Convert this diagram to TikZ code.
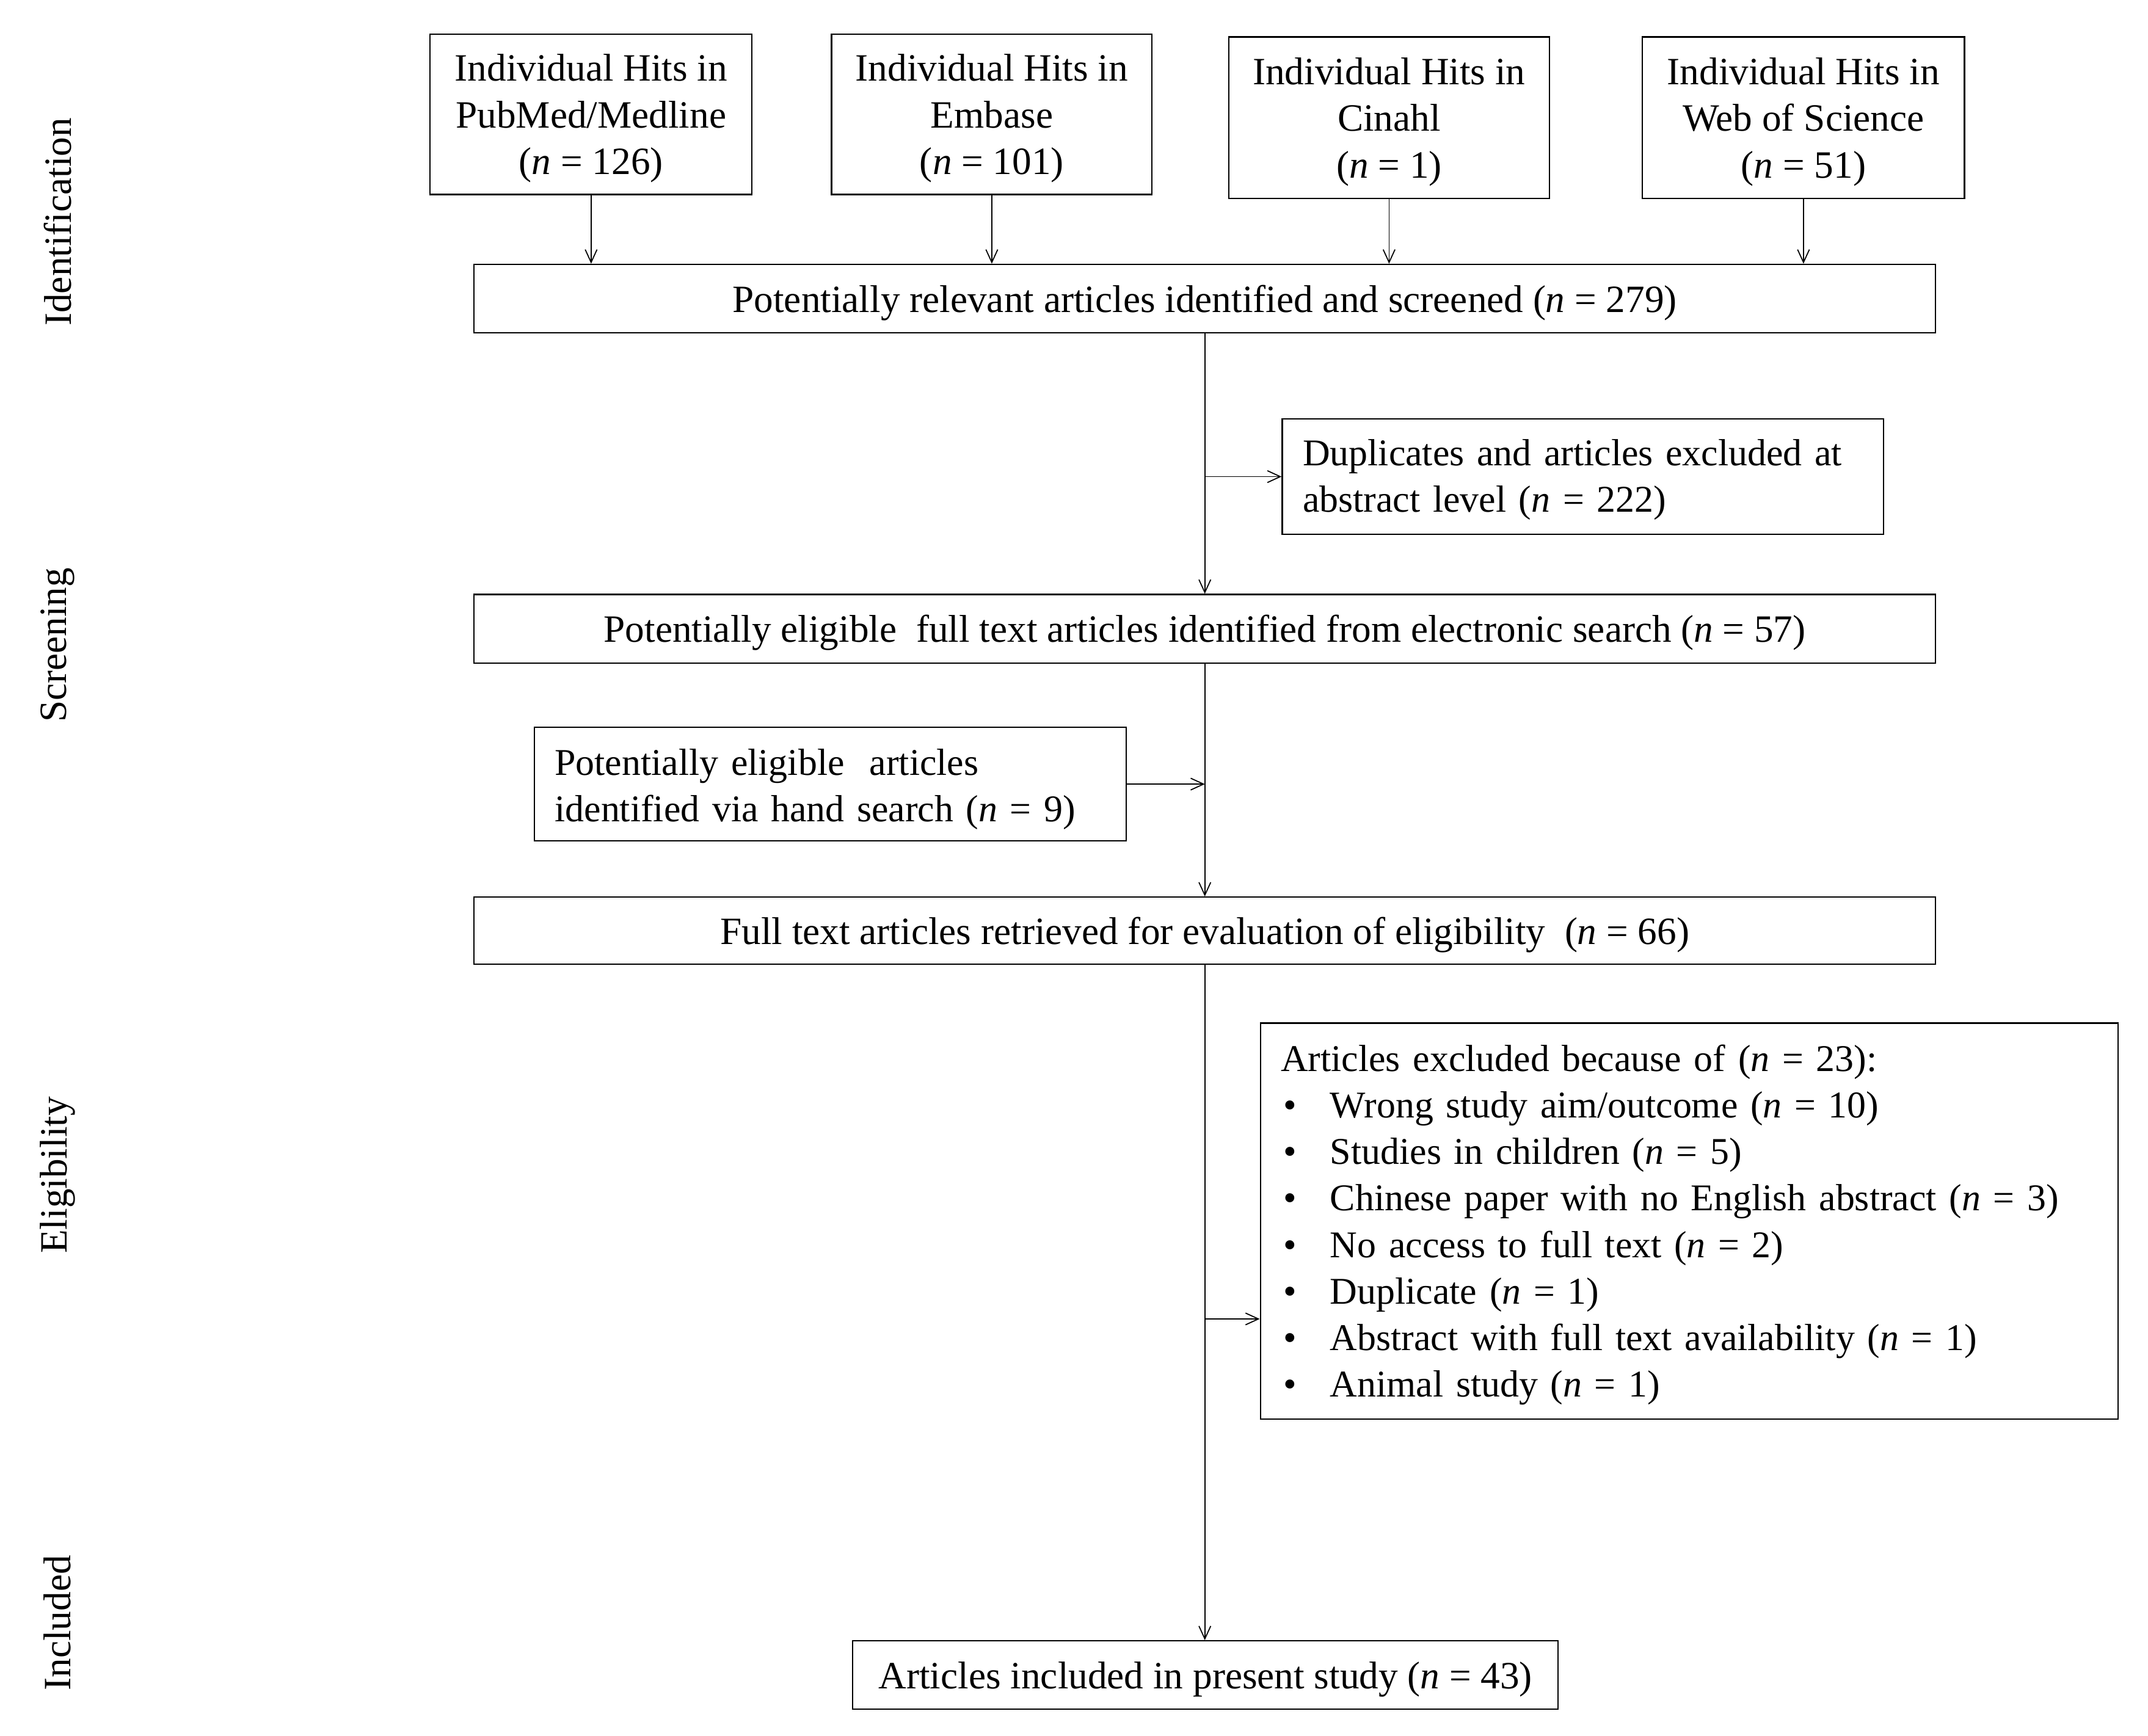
\documentclass[tikz,border=0pt]{standalone}
\usepackage{fontspec}
\setmainfont{Liberation Serif}
\usetikzlibrary{arrows.meta}
\newlength\dpx
\setlength\dpx{0.02243cm}
\newcommand\bul{\makebox[36\dpx][l]{\hspace{2\dpx}\textbullet}}
\newcommand\nn{\textit{n}}
\begin{document}
\begin{tikzpicture}[x=0.02243cm, y=-0.02243cm,
  frame/.style={draw, line width=0.6pt, inner sep=0pt},
  box/.style={frame, text depth=0pt, font=\fontsize{18}{21.7}\selectfont, align=center},
  lbox/.style={frame, align=left, inner xsep=15\dpx, font=\fontsize{17.6}{21.7}\selectfont},
  side/.style={font=\fontsize{18}{21.7}\selectfont, rotate=90, inner sep=0pt},
  arr/.style={line width=0.5pt, -{Straight Barb[length=6pt,width=5.5pt]}}]
\useasboundingbox (0,0) rectangle (1568,1267.5);
% side labels
\node[side] (lid) at (42,162) {Identification};
\node[side] (lsc) at (42,471) {Screening};
\node[side] (lel) at (42,858) {Eligibility};
\node[side] (lin) at (42,1185) {Included};
% sources
\node[box, minimum width=235\dpx, minimum height=117\dpx] (pub) at (431.5,83.5) {Individual Hits in\\PubMed/Medline\\(\nn{} = 126)};
\node[box, minimum width=234\dpx, minimum height=117\dpx] (emb) at (724,83.5) {Individual Hits in\\Embase\\(\nn{} = 101)};
\node[box, minimum width=234\dpx, minimum height=118\dpx] (cin) at (1014,86) {Individual Hits in\\Cinahl\\(\nn{} = 1)};
\node[box, minimum width=235\dpx, minimum height=118\dpx] (wos) at (1316.5,86) {Individual Hits in\\Web of Science\\(\nn{} = 51)};
% main column
\node[box, minimum width=1067\dpx, minimum height=50\dpx] (b5) at (879.5,218) {Potentially relevant articles identified and screened (\nn{} = 279)};
\node[lbox, text width=409\dpx, text height=15.2pt, minimum height=84\dpx] (dup) at (1155.5,348) {\mbox{Duplicates and articles excluded at}\\abstract level (\nn{} = 222)};
\node[box, minimum width=1067\dpx, minimum height=50\dpx] (b6) at (879.5,459) {Potentially eligible\ \ full text articles identified from electronic search (\nn{} = 57)};
\node[lbox, text width=402\dpx, text height=17.1pt, minimum height=83\dpx] (hand) at (606,572.5) {\mbox{Potentially eligible\ \ articles}\\identified via hand search (\nn{} = 9)};
\node[box, minimum width=1067\dpx, minimum height=49\dpx] (b8) at (879.5,679.5) {Full text articles retrieved for evaluation of eligibility\ \ (\nn{} = 66)};
\node[lbox, text width=596\dpx, text height=16pt, minimum height=289\dpx] (excl) at (1233,891.5) {Articles excluded because of (\nn{} = 23):\\
\bul Wrong study aim/outcome (\nn{} = 10)\\
\bul Studies in children (\nn{} = 5)\\
\bul \mbox{Chinese paper with no English abstract (\nn{} = 3)}\\
\bul No access to full text (\nn{} = 2)\\
\bul Duplicate (\nn{} = 1)\\
\bul Abstract with full text availability\ (\nn{} = 1)\\
\bul Animal study (\nn{} = 1)};
\node[box, minimum width=515\dpx, minimum height=50\dpx] (fin) at (880,1223) {Articles included in present study (\nn{} = 43)};
% connectors
\draw[arr] (pub.south) -- (pub.south |- b5.north);
\draw[arr] (emb.south) -- (emb.south |- b5.north);
\draw[arr] (cin.south) -- (cin.south |- b5.north);
\draw[arr] (wos.south) -- (wos.south |- b5.north);
\draw[arr] (b5.south) -- (b6.north);
\draw[arr] (b5.south |- dup.west) -- (dup.west);
\draw[arr] (b6.south) -- (b8.north);
\draw[arr] (hand.east) -- (hand.east -| b6.south);
\draw[arr] (b8.south) -- (b8.south |- fin.north);
\coordinate (ea) at (879.5,963);
\draw[arr] (ea) -- (ea -| excl.west);
\end{tikzpicture}
\end{document}
